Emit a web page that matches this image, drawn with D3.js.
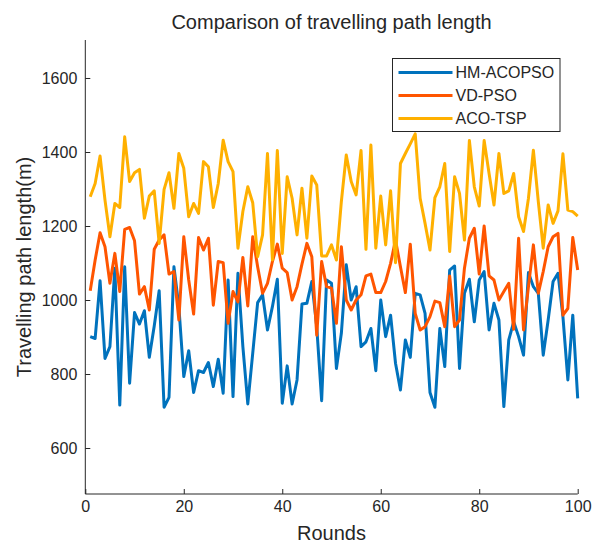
<!DOCTYPE html>
<html>

<head>
  <meta charset="utf-8" />
  <title>Comparison of travelling path length</title>
  <style>
    body {
      margin: 0;
      background: #fff;
    }

    text {
      font-family: "Liberation Sans", Arial, sans-serif;
      fill: #262626;
    }

    .axis path,
    .axis line {
      stroke: #262626;
    }
  </style>
</head>

<body>
  <svg id="svg" width="594" height="543"></svg>

  <script src="https://cdnjs.cloudflare.com/ajax/libs/d3/7.8.5/d3.min.js"></script>
  <script>
    const rounds = d3.range(1, 101)

    const hmAcopso = [
      901, 896, 1052, 842, 874, 1086, 716, 1090, 775, 966,
      935, 971, 845, 930, 1025, 710, 737, 1090, 982, 793,
      863, 750, 809, 804, 831, 766, 840, 748, 1054, 739,
      1072, 874, 719, 856, 993, 1014, 919, 982, 1056, 721,
      822, 719, 784, 989, 991, 1050, 928, 728, 1054, 1045,
      815, 910, 1095, 1000, 1036, 874, 887, 923, 809, 1000,
      901, 959, 829, 757, 892, 845, 1018, 1014, 964, 750,
      710, 923, 820, 1081, 1092, 815, 1018, 1056, 941, 1054,
      1077, 919, 991, 946, 712, 892, 941, 901, 851, 1074,
      1036, 1018, 851, 946, 1050, 1072, 955, 784, 959, 734
    ]

    const vdPso = [
      1025, 1108, 1182, 1144, 1045, 1126, 1023, 1191, 1196, 1160,
      1016, 1036, 973, 1137, 1162, 1176, 1070, 1077, 946, 1171,
      1054, 962, 1169, 1135, 1167, 986, 1104, 1101, 937, 1023,
      995, 1115, 984, 1171, 1090, 1018, 1045, 1104, 1151, 1086,
      1074, 1000, 1036, 1097, 1153, 1117, 905, 1104, 1036, 1032,
      937, 1144, 1000, 973, 1000, 1014, 1065, 1070, 1020, 1020,
      1050, 1099, 1162, 1090, 1020, 1151, 964, 919, 928, 955,
      997, 993, 928, 1065, 928, 946, 1086, 1167, 1194, 1070,
      1200, 1065, 1054, 1000, 1023, 1045, 921, 1167, 919, 1036,
      1149, 1018, 1077, 1144, 1171, 1180, 959, 977, 1169, 1081
    ]

    const acoTsp = [
      1279, 1315, 1389, 1270, 1171, 1261, 1250, 1441, 1320, 1344,
      1353, 1221, 1281, 1295, 1153, 1299, 1344, 1248, 1396, 1356,
      1225, 1261, 1234, 1374, 1360, 1250, 1315, 1432, 1374, 1347,
      1140, 1239, 1306, 1263, 1117, 1176, 1396, 1108, 1404, 1126,
      1333, 1275, 1176, 1302, 1167, 1335, 1311, 1119, 1119, 1149,
      1108, 1266, 1392, 1320, 1284, 1404, 1137, 1419, 1140, 1281,
      1149, 1295, 1101, 1369, 1396, 1422, 1449, 1275, 1207, 1135,
      1277, 1306, 1369, 1131, 1333, 1288, 1162, 1431, 1306, 1254,
      1431, 1342, 1257, 1396, 1288, 1295, 1342, 1225, 1185, 1275,
      1405, 1266, 1140, 1257, 1207, 1241, 1395, 1243, 1239, 1227
    ]

    const seriesNames = ['HM-ACOPSO', 'VD-PSO', 'ACO-TSP']
    const seriesColors = ['#0072BD', '#FF5500', '#FFB000']
    const xTicks = [0, 20, 40, 60, 80, 100]
    const yTicks = [600, 800, 1000, 1200, 1400, 1600]

    const plot = { left: 85.3, right: 577.7, top: 40, bottom: 494 }

    const x = d3.scaleLinear().domain([0, 100]).range([plot.left, plot.right])
    const y = d3.scaleLinear().domain([475.7, 1702.7]).range([plot.bottom, plot.top])

    const svg = d3.select('#svg')

    // lines first, axes on top
    const line = d3.line()
      .x((d, i) => x(rounds[i]))
      .y(d => y(d))

    const allSeries = [hmAcopso, vdPso, acoTsp]

    svg.append('g')
      .selectAll('path')
      .data(allSeries)
      .join('path')
      .attr('fill', 'none')
      .attr('stroke', (d, i) => seriesColors[i])
      .attr('stroke-width', 3)
      .attr('stroke-linejoin', 'round')
      .attr('d', line)

    const xAxis = d3.axisBottom(x)
      .tickValues(xTicks)
      .tickFormat(d3.format('d'))
      .tickSizeInner(-5)
      .tickSizeOuter(0)
      .tickPadding(7)

    const yAxis = d3.axisLeft(y)
      .tickValues(yTicks)
      .tickFormat(d3.format('d'))
      .tickSizeInner(-5)
      .tickSizeOuter(0)
      .tickPadding(8)

    const gx = svg.append('g')
      .attr('class', 'axis')
      .attr('transform', `translate(0,${plot.bottom})`)
      .call(xAxis)
    gx.select('.domain').attr('d', `M${plot.left},0H${plot.right}`)
    gx.selectAll('text').attr('font-size', 16)

    const gy = svg.append('g')
      .attr('class', 'axis')
      .attr('transform', `translate(${plot.left},0)`)
      .call(yAxis)
    gy.select('.domain').attr('d', `M0,${plot.top}V${plot.bottom}`)
    gy.selectAll('text').attr('font-size', 16)

    svg.selectAll('.axis').attr('font-family', null)

    // title and labels
    svg.append('text')
      .attr('x', (plot.left + plot.right) / 2)
      .attr('y', 29)
      .attr('text-anchor', 'middle')
      .attr('font-size', 20)
      .text('Comparison of travelling path length')

    svg.append('text')
      .attr('x', (plot.left + plot.right) / 2)
      .attr('y', 540)
      .attr('text-anchor', 'middle')
      .attr('font-size', 20)
      .text('Rounds')

    svg.append('text')
      .attr('transform', `translate(31,${(plot.top + plot.bottom) / 2}) rotate(-90)`)
      .attr('text-anchor', 'middle')
      .attr('font-size', 20)
      .text('Travelling path length(m)')

    // legend
    const legend = svg.append('g').attr('transform', 'translate(392.5,58.5)')
    legend.append('rect')
      .attr('width', 167.5)
      .attr('height', 73)
      .attr('fill', '#fff')
      .attr('stroke', '#262626')
      .attr('stroke-width', 1)

    const item = legend.selectAll('.item')
      .data(seriesNames)
      .join('g')
      .attr('class', 'item')
      .attr('transform', (d, i) => `translate(0,${14 + i * 23})`)

    item.append('line')
      .attr('x1', 6)
      .attr('x2', 60)
      .attr('stroke', (d, i) => seriesColors[i])
      .attr('stroke-width', 3)

    item.append('text')
      .attr('x', 63)
      .attr('dy', '0.36em')
      .attr('font-size', 16)
      .text(d => d)
  </script>
</body>

</html>
